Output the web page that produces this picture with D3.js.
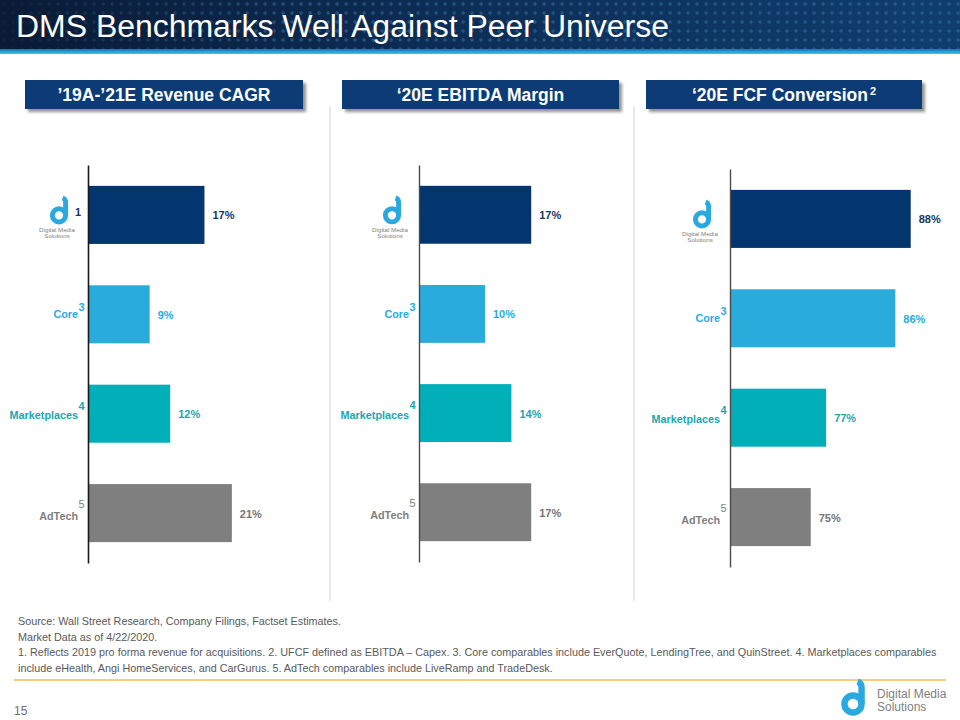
<!DOCTYPE html>
<html>
<head>
<meta charset="utf-8">
<script src="https://cdn.jsdelivr.net/npm/d3@7"></script>
<style>
  html, body { margin: 0; padding: 0; background: #ffffff; }
  svg { display: block; font-family: "Liberation Sans", Arial, sans-serif; }
</style>
</head>
<body>
<svg id="chart" width="960" height="720"></svg>
<script>
// ---------------- DATA ----------------
const pageTitle = "DMS Benchmarks Well Against Peer Universe";
const categories = ["DMS", "Core", "Marketplaces", "AdTech"];
const panelTitles = ["\u201919A-\u201921E Revenue CAGR", "\u201820E EBITDA Margin", "\u201820E FCF Conversion"];
const panelTitleNotes = ["", "", "2"];
const revenueCagr = [17, 9, 12, 21];
const ebitdaMargin = [17, 10, 14, 17];
const fcfConversion = [88, 86, 77, 75];
const refsRevenue = ["1", "3", "4", "5"];
const refsEbitda = ["", "3", "4", "5"];
const refsFcf = ["", "3", "4", "5"];
const footnotes = [
  "Source: Wall Street Research, Company Filings, Factset Estimates.",
  "Market Data as of 4/22/2020.",
  "1. Reflects 2019 pro forma revenue for acquisitions. 2. UFCF defined as EBITDA \u2013 Capex. 3. Core comparables include EverQuote, LendingTree, and QuinStreet. 4. Marketplaces comparables",
  "include eHealth, Angi HomeServices, and CarGurus. 5. AdTech comparables include LiveRamp and TradeDesk."
];
const pageNumber = "15";
const logoLines = ["Digital Media", "Solutions"];

// ---------------- STYLE ----------------
const barColors = ["#03356f", "#29abdc", "#00afb8", "#7f7f7f"];
const labelColors = ["#17375e", "#29abdc", "#1aa6af", "#747474"];
const catColors = ["#7f7f7f", "#29abdc", "#1aa6af", "#7f7f7f"];
const logoBlue = "#2aa9e0";

const svg = d3.select("#chart");
const defs = svg.append("defs");

// Title background gradients & pattern
const tg = defs.append("linearGradient").attr("id", "titleGrad").attr("x1", 0).attr("x2", 1).attr("y1", 0).attr("y2", 0);
tg.append("stop").attr("offset", "0%").attr("stop-color", "#0a1b36");
tg.append("stop").attr("offset", "45%").attr("stop-color", "#0c2d55");
tg.append("stop").attr("offset", "100%").attr("stop-color", "#0f3e6e");
const sg = defs.append("linearGradient").attr("id", "stripGrad").attr("x1", 0).attr("x2", 0).attr("y1", 0).attr("y2", 1);
sg.append("stop").attr("offset", "0%").attr("stop-color", "#1670b4");
sg.append("stop").attr("offset", "100%").attr("stop-color", "#3cc6f2");
const pat = defs.append("pattern").attr("id", "diamonds").attr("patternUnits", "userSpaceOnUse")
  .attr("width", 9).attr("height", 9);
pat.append("rect").attr("x", 2.5).attr("y", 2.5).attr("width", 3.2).attr("height", 3.2)
  .attr("transform", "rotate(45 4.1 4.1)").attr("fill", "#4f95c8");
const mg = defs.append("linearGradient").attr("id", "maskGrad").attr("x1", 0).attr("x2", 1).attr("y1", 0).attr("y2", 0);
mg.append("stop").attr("offset", "0%").attr("stop-color", "#fff").attr("stop-opacity", 0.05);
mg.append("stop").attr("offset", "30%").attr("stop-color", "#fff").attr("stop-opacity", 0.35);
mg.append("stop").attr("offset", "100%").attr("stop-color", "#fff").attr("stop-opacity", 0.3);
const mask = defs.append("mask").attr("id", "patMask");
mask.append("rect").attr("width", 960).attr("height", 50).attr("fill", "url(#maskGrad)");

const shadow = defs.append("filter").attr("id", "boxShadow").attr("x", "-10%").attr("y", "-30%").attr("width", "130%").attr("height", "180%");
shadow.append("feDropShadow").attr("dx", 3).attr("dy", 3).attr("stdDeviation", 1.8).attr("flood-color", "#6e6e6e").attr("flood-opacity", 0.75);

// ---------------- TITLE BAR ----------------
svg.append("rect").attr("x", 0).attr("y", 0).attr("width", 960).attr("height", 50).attr("fill", "url(#titleGrad)");
svg.append("rect").attr("x", 0).attr("y", 0).attr("width", 960).attr("height", 50).attr("fill", "url(#diamonds)").attr("mask", "url(#patMask)");
svg.append("rect").attr("x", 0).attr("y", 49).attr("width", 960).attr("height", 5).attr("fill", "url(#stripGrad)");
svg.append("text").attr("x", 16).attr("y", 37).attr("fill", "#ffffff")
  .attr("font-size", 31).attr("textLength", 653).attr("lengthAdjust", "spacingAndGlyphs")
  .text(pageTitle);

// ---------------- PANEL HEADERS ----------------
const headerBoxes = [[25, 303], [342, 619], [646, 922]];
panelTitles.forEach((t, i) => {
  const [x0, x1] = headerBoxes[i];
  svg.append("rect").attr("x", x0).attr("y", 80).attr("width", x1 - x0).attr("height", 29)
    .attr("fill", "#073a74").attr("filter", "url(#boxShadow)");
  const tx = svg.append("text").attr("x", (x0 + x1) / 2).attr("y", 101).attr("text-anchor", "middle")
    .attr("fill", "#ffffff").attr("font-weight", "bold").attr("font-size", 17.5).text(t);
  if (panelTitleNotes[i]) {
    tx.append("tspan").attr("dx", 2).attr("dy", -6).attr("font-size", 11).text(panelTitleNotes[i]);
  }
});

// separators
[330, 634].forEach(x => {
  svg.append("line").attr("x1", x).attr("x2", x).attr("y1", 106).attr("y2", 601)
    .attr("stroke", "#d3d3d3").attr("stroke-width", 1);
});

// ---------------- LOGO ----------------
function drawLogo(g, cx, cy, s) {
  // ring
  g.append("circle").attr("cx", cx).attr("cy", cy).attr("r", 5.9 * s)
    .attr("fill", "none").attr("stroke", logoBlue).attr("stroke-width", 4.4 * s);
  // stem with hook
  g.append("path")
    .attr("d", `M${cx + 5.9 * s},${cy} L${cx + 5.9 * s},${cy - 11.5 * s} Q${cx + 5.9 * s},${cy - 14.5 * s} ${cx + 3.2 * s},${cy - 15.5 * s}`)
    .attr("fill", "none").attr("stroke", logoBlue).attr("stroke-width", 4.4 * s).attr("stroke-linecap", "butt");
}

// ---------------- PANELS ----------------
const panels = [
  { values: revenueCagr, refs: refsRevenue, axisX: 88, xDomain: [0, 25], pxPer: 6.85, yRange: [165, 563], axisColor: "#1a1a1a", axisW: 1.6, logoX: 59 },
  { values: ebitdaMargin, refs: refsEbitda, axisX: 419, xDomain: [0, 25], pxPer: 6.6, yRange: [165, 562], axisColor: "#4a4a4a", axisW: 1.4, logoX: 392 },
  { values: fcfConversion, refs: refsFcf, axisX: 730, xDomain: [64.5, 90], pxPer: 7.69, yRange: [169, 567], axisColor: "#4a4a4a", axisW: 1.4, logoX: 702 }
];

panels.forEach(p => {
  const g = svg.append("g");
  const x = d3.scaleLinear().domain(p.xDomain)
    .range([p.axisX, p.axisX + (p.xDomain[1] - p.xDomain[0]) * p.pxPer]);
  const y = d3.scaleBand().domain(categories).range(p.yRange).paddingInner(0.416).paddingOuter(0.21);
  const rows = categories.map((c, i) => ({ cat: c, v: p.values[i], ref: p.refs[i], i }));

  g.selectAll("rect.bar").data(rows).enter().append("rect").attr("class", "bar")
    .attr("x", x(p.xDomain[0]))
    .attr("y", d => y(d.cat))
    .attr("width", d => x(d.v) - x(p.xDomain[0]))
    .attr("height", y.bandwidth())
    .attr("fill", d => barColors[d.i]);

  g.selectAll("text.val").data(rows).enter().append("text").attr("class", "val")
    .attr("x", d => x(d.v) + 8)
    .attr("y", d => y(d.cat) + y.bandwidth() / 2 + 4.5)
    .attr("fill", d => labelColors[d.i])
    .attr("font-weight", "bold").attr("font-size", 11)
    .text(d => d.v + "%");

  // axis (domain line only)
  const ax = g.append("g").attr("transform", `translate(${p.axisX},0)`)
    .call(d3.axisLeft(y).tickSize(0).tickSizeOuter(0).tickFormat(""));
  ax.select(".domain").attr("stroke", p.axisColor).attr("stroke-width", p.axisW);
  ax.selectAll(".tick").remove();

  // category labels
  rows.forEach(d => {
    const cy = y(d.cat) + y.bandwidth() / 2;
    if (d.cat === "DMS") {
      drawLogo(g, p.logoX, cy + 0.5, 1.12);
      logoLines.forEach((t, k) => {
        g.append("text").attr("x", p.logoX - 2).attr("y", cy + 17 + k * 6)
          .attr("text-anchor", "middle").attr("font-size", 6.2).attr("fill", "#808080").text(t);
      });
      if (d.ref) {
        g.append("text").attr("x", p.logoX + 16).attr("y", cy + 1).attr("font-weight", "bold")
          .attr("font-size", 11).attr("fill", "#17375e").text(d.ref);
      }
    } else {
      g.append("text").attr("x", p.axisX - 10).attr("y", cy + 4 + (d.i - 1) * 1.5)
        .attr("text-anchor", "end").attr("font-weight", "bold").attr("font-size", 10.8)
        .attr("fill", catColors[d.i]).text(d.cat);
      g.append("text").attr("x", p.axisX - 9.5).attr("y", cy - 3 - (d.i - 1) * 1)
        .attr("font-size", 11).attr("font-weight", d.i === 3 ? "normal" : "bold")
        .attr("fill", catColors[d.i]).text(d.ref);
    }
  });
});

// ---------------- FOOTNOTES ----------------
footnotes.forEach((t, i) => {
  svg.append("text").attr("x", 18).attr("y", 625 + i * 15.5).attr("font-size", 10.8)
    .attr("fill", "#595959").text(t);
});
svg.append("line").attr("x1", 14).attr("x2", 946).attr("y1", 680).attr("y2", 680)
  .attr("stroke", "#f2c14e").attr("stroke-width", 1.3);
svg.append("text").attr("x", 14).attr("y", 715).attr("font-size", 12).attr("fill", "#6d6d6d").text(pageNumber);

// bottom logo
const bl = svg.append("g");
drawLogo(bl, 853, 704, 1.45);
logoLines.forEach((t, k) => {
  bl.append("text").attr("x", 877).attr("y", 698 + k * 12.5).attr("font-size", 12)
    .attr("fill", "#7f7f7f").text(t);
});
</script>
</body>
</html>
